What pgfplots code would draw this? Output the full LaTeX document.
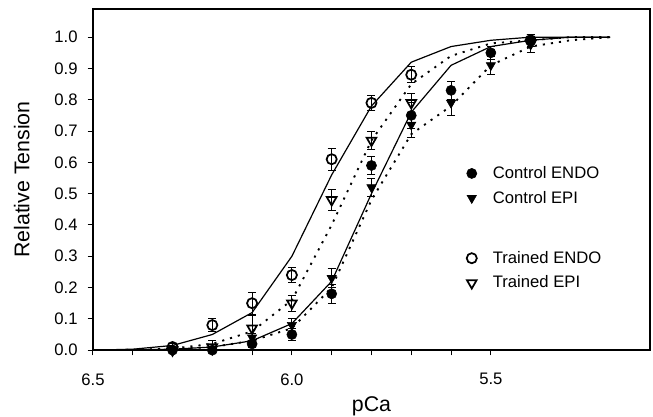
\documentclass[border=0pt]{standalone}
\usepackage{pgfplots}
\pgfplotsset{compat=1.18}
\usepackage{fontspec}
\setmainfont{Liberation Sans}
\begin{document}
\begin{tikzpicture}
\begin{axis}[
    name=ax,
    scale only axis,
    width=418pt, height=256pt,
    x dir=reverse,
    xmin=5.1, xmax=6.5,
    ymin=0, ymax=1.09,
    xtick={6.5,6.0,5.5},
    minor x tick num=4,
    ytick={0,0.1,...,1.0},
    tick align=outside,
    xtick pos=bottom, ytick pos=left,
    major tick length=4pt, minor tick length=4pt,
    tick style={black, line width=0.8pt},
    axis line style={line width=1pt},
    xticklabel style={yshift=-10pt, /pgf/number format/.cd, fixed, fixed zerofill, precision=1},
    yticklabel style={xshift=-4pt, /pgf/number format/.cd, fixed, fixed zerofill, precision=1},
    /pgf/number format/assume math mode=true,
    ticklabel style={font=\fontsize{12.5}{15}\selectfont},
    xlabel={pCa}, ylabel={Relative Tension},
    label style={font=\fontsize{16}{19}\selectfont},
    xlabel style={at={(axis description cs:0.5,0)}, anchor=center, yshift=-42pt},
    ylabel style={at={(axis description cs:-0.128,0.5)}, anchor=center},
    legend style={draw=none, fill=none, at={(0.652,0.555)}, anchor=north west,
        font=\fontsize{12.5}{15}\selectfont, row sep=4pt,
        /tikz/every odd column/.append style={column sep=10pt}},
    legend cell align=left,
    error bars/error bar style={line width=0.6pt},
    error bars/error mark options={rotate=90, mark size=3pt, line width=0.6pt},
]
% fitted curves
\addplot[black, line width=0.9pt, forget plot] coordinates {
 (6.5,0.0) (6.4,0.003) (6.3,0.015) (6.2,0.05) (6.1,0.12) (6.0,0.30) (5.9,0.56)
 (5.8,0.78) (5.7,0.92) (5.6,0.97) (5.5,0.99) (5.4,1.0) (5.3,1.0) (5.2,1.0)};
\addplot[black, line width=0.9pt, forget plot] coordinates {
 (6.5,0.0) (6.4,0.001) (6.3,0.003) (6.2,0.01) (6.1,0.03) (6.0,0.085) (5.9,0.22)
 (5.8,0.50) (5.7,0.76) (5.6,0.91) (5.5,0.97) (5.4,0.99) (5.3,1.0) (5.2,1.0)};
\addplot[black, line width=1.4pt, dash pattern=on 1.6pt off 4.5pt, forget plot] coordinates {
 (6.5,0.0) (6.4,0.001) (6.3,0.005) (6.2,0.02) (6.1,0.06) (6.0,0.16) (5.9,0.40)
 (5.8,0.67) (5.7,0.85) (5.6,0.94) (5.5,0.98) (5.4,0.99) (5.3,1.0) (5.2,1.0)};
\addplot[black, line width=1.4pt, dash pattern=on 1.6pt off 4.5pt, forget plot] coordinates {
 (6.5,0.0) (6.4,0.001) (6.3,0.003) (6.2,0.01) (6.1,0.03) (6.0,0.07) (5.9,0.20)
 (5.8,0.48) (5.7,0.69) (5.6,0.78) (5.5,0.91) (5.4,0.97) (5.3,0.99) (5.2,1.0)};
% Control ENDO
\addplot[only marks, black, mark=*, mark size=3.8pt,
    error bars/.cd, y dir=both, y explicit] coordinates {
 (6.3,0.0) +- (0,0.005) (6.2,0.0) +- (0,0.005) (6.1,0.02) +- (0,0.01)
 (6.0,0.05) +- (0,0.02) (5.9,0.18) +- (0,0.03) (5.8,0.59) +- (0,0.03)
 (5.7,0.75) +- (0,0.04) (5.6,0.83) +- (0,0.03) (5.5,0.95) +- (0,0.02) (5.4,0.99) +- (0,0.02)};
\addlegendentry{Control ENDO}
% Control EPI
\addplot[only marks, black, mark=triangle*, mark size=4pt, mark options={rotate=180},
    error bars/.cd, y dir=both, y explicit] coordinates {
 (6.3,0.0) +- (0,0.005) (6.2,0.0) +- (0,0.005) (6.1,0.04) +- (0,0.015)
 (6.0,0.08) +- (0,0.02) (5.9,0.23) +- (0,0.03) (5.8,0.52) +- (0,0.03)
 (5.7,0.72) +- (0,0.04) (5.6,0.79) +- (0,0.04) (5.5,0.91) +- (0,0.03) (5.4,0.99) +- (0,0.02)};
\addlegendentry{Control EPI}
\addlegendimage{empty legend}\addlegendentry{\rule[-3pt]{0pt}{20pt}}
% Trained ENDO
\addplot[only marks, black, mark=o, mark size=3.8pt, mark options={fill=white, line width=1.3pt},
    error bars/.cd, y dir=both, y explicit] coordinates {
 (6.3,0.01) +- (0,0.01) (6.2,0.08) +- (0,0.02) (6.1,0.15) +- (0,0.035)
 (6.0,0.24) +- (0,0.025) (5.9,0.61) +- (0,0.035) (5.8,0.79) +- (0,0.025)
 (5.7,0.88) +- (0,0.025) (5.4,0.99) +- (0,0.02)};
\addlegendentry{Trained ENDO}
% Trained EPI
\addplot[only marks, black, mark=triangle, mark size=4.2pt, mark options={rotate=180, fill=white, line width=1.3pt},
    error bars/.cd, y dir=both, y explicit] coordinates {
 (6.3,0.0) +- (0,0.005) (6.2,0.01) +- (0,0.02) (6.1,0.07) +- (0,0.04)
 (6.0,0.15) +- (0,0.025) (5.9,0.48) +- (0,0.035) (5.8,0.67) +- (0,0.03)
 (5.7,0.79) +- (0,0.03) (5.4,0.98) +- (0,0.03)};
\addlegendentry{Trained EPI}
\end{axis}
\pgfresetboundingbox
\path[use as bounding box] (ax.south west) +(-69.75pt,-49.5pt) rectangle ([xshift=2.25pt,yshift=6.75pt]ax.north east);
\end{tikzpicture}
\end{document}
